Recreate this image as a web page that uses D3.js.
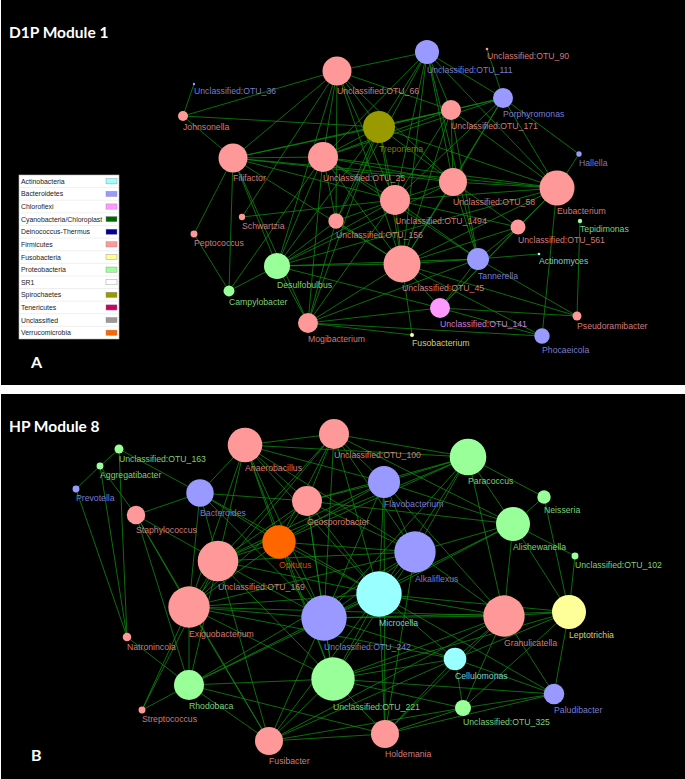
<!DOCTYPE html>
<html><head><meta charset="utf-8">
<script src="https://cdn.jsdelivr.net/npm/d3@7"></script>
<style>html,body{margin:0;padding:0;background:#fff;}svg{display:block;}</style>
</head><body>
<script>
// ---------- DATA ----------
const phyla = ["Actinobacteria","Bacteroidetes","Chloroflexi","Cyanobacteria/Chloroplast","Deinococcus-Thermus","Firmicutes","Fusobacteria","Proteobacteria","SR1","Spirochaetes","Tenericutes","Unclassified","Verrucomicrobia"];
const phylaColors = ["#99ffff","#9999ff","#ff99ff","#006600","#000099","#ff9999","#ffff99","#99ff99","#ffffff","#999900","#cc0066","#999999","#ff6600"];

// nodes: [id, label, phylum, layoutX, layoutY, abundance]
const nodesA = [
 ["n66","Unclassified:OTU_66","Firmicutes",337,71,210],
 ["n111","Unclassified:OTU_111","Bacteroidetes",427,52,144],
 ["n36","Unclassified:OTU_36","Bacteroidetes",194,84,1.4],
 ["n90","Unclassified:OTU_90","Firmicutes",487,49,1.7],
 ["john","Johnsonella","Firmicutes",183,116,25],
 ["trep","Treponema","Spirochaetes",379,127,256],
 ["n171","Unclassified:OTU_171","Firmicutes",451,110,100],
 ["porph","Porphyromonas","Bacteroidetes",503,98,100],
 ["hall","Hallella","Bacteroidetes",579,154,7.3],
 ["fili","Filifactor","Firmicutes",233,158,210],
 ["n25","Unclassified:OTU_25","Firmicutes",323,157,225],
 ["n58","Unclassified:OTU_58","Firmicutes",453,182,196],
 ["eub","Eubacterium","Firmicutes",557,188,306],
 ["n1494","Unclassified:OTU_1494","Firmicutes",395,200,225],
 ["n156","Unclassified:OTU_156","Firmicutes",336,221,59],
 ["schw","Schwartzia","Firmicutes",242,217,10],
 ["pept","Peptococcus","Firmicutes",194,234,12],
 ["n561","Unclassified:OTU_561","Firmicutes",518,227,56],
 ["tepi","Tepidimonas","Proteobacteria",580,221,4.8],
 ["actino","Actinomyces","Actinobacteria",539,254,1.7],
 ["tann","Tannerella","Bacteroidetes",478,259,121],
 ["n45","Unclassified:OTU_45","Firmicutes",402,264,342],
 ["desulf","Desulfobulbus","Proteobacteria",277,266,169],
 ["campy","Campylobacter","Proteobacteria",229,291,30],
 ["mogi","Mogibacterium","Firmicutes",308,323,100],
 ["n141","Unclassified:OTU_141","Chloroflexi",440,308,100],
 ["fuso","Fusobacterium","Fusobacteria",412,335,4],
 ["pseudo","Pseudoramibacter","Firmicutes",577,316,20],
 ["phoc","Phocaeicola","Bacteroidetes",542,336,59]
];
const linksA = [
 ["n36","john"],["john","n66"],["john","trep"],["john","fili"],["n90","porph"],["porph","hall"],["eub","hall"],
 ["tepi","pseudo"],["eub","phoc"],["actino","tann"],["tann","pseudo"],["n141","pseudo"],["n45","pseudo"],
 ["mogi","phoc"],["n141","phoc"],["n45","phoc"],["fuso","n45"],["fuso","mogi"],
 ["pept","fili"],["pept","campy"],["campy","fili"],["campy","desulf"],["campy","n25"],["schw","n1494"],["schw","n66"],
 ["fili","n66"],["fili","n25"],["fili","trep"],["fili","n58"],["fili","n1494"],["fili","n45"],["fili","desulf"],["fili","mogi"],["fili","n171"],["fili","eub"],
 ["n66","n111"],["n66","trep"],["n66","n25"],["n66","n1494"],["n66","n45"],["n66","n171"],["n66","n58"],["n66","n156"],["n66","desulf"],
 ["n111","trep"],["n111","n171"],["n111","porph"],["n111","n25"],["n111","n58"],["n111","n1494"],["n111","n45"],["n111","eub"],["n111","tann"],["n111","n156"],
 ["trep","n171"],["trep","porph"],["trep","n25"],["trep","n1494"],["trep","n45"],["trep","n58"],["trep","eub"],["trep","desulf"],["trep","n156"],["trep","mogi"],
 ["n171","porph"],["n171","n25"],["n171","n45"],["n171","n58"],["n171","eub"],["n171","n1494"],["n171","tann"],
 ["porph","n25"],["porph","eub"],["porph","n58"],["porph","n1494"],["porph","n45"],
 ["n25","n58"],["n25","n1494"],["n25","n45"],["n25","eub"],["n25","n156"],["n25","desulf"],["n25","tann"],["n25","mogi"],
 ["n58","eub"],["n58","n1494"],["n58","n45"],["n58","n561"],["n58","tann"],["n58","desulf"],
 ["eub","n1494"],["eub","n45"],["eub","n561"],["eub","n141"],["eub","desulf"],
 ["n1494","n45"],["n1494","n561"],["n1494","tann"],["n1494","n156"],["n1494","desulf"],["n1494","mogi"],
 ["n156","n45"],["n156","desulf"],["n156","mogi"],
 ["n45","tann"],["n45","desulf"],["n45","mogi"],["n45","n141"],["n45","n561"],
 ["desulf","tann"],["desulf","mogi"],["desulf","n141"],["mogi","n141"],["mogi","tann"],
 ["n561","tann"],["n561","n141"],["n141","tann"]
];

const nodesB = [
 ["n163","Unclassified:OTU_163","Proteobacteria",119,55,20],
 ["aggr","Aggregatibacter","Proteobacteria",100,72,12],
 ["prev","Prevotella","Bacteroidetes",76,95,12],
 ["staph","Staphylococcus","Firmicutes",136,121,86],
 ["bact","Bacteroides","Bacteroidetes",200,99,188],
 ["anaer","Anaerobacillus","Firmicutes",245,51,299],
 ["n100","Unclassified:OTU_100","Firmicutes",334,40,225],
 ["geos","Geosporobacter","Firmicutes",307,107,225],
 ["flavo","Flavobacterium","Bacteroidetes",384,88,256],
 ["parac","Paracoccus","Proteobacteria",468,63,335],
 ["neiss","Neisseria","Proteobacteria",544,103,45],
 ["alish","Alishewanella","Proteobacteria",513,130,289],
 ["n102","Unclassified:OTU_102","Proteobacteria",575,162,12],
 ["opit","Opitutus","Verrucomicrobia",279,148,279],
 ["alkal","Alkaliflexus","Bacteroidetes",415,158,428],
 ["n169","Unclassified:OTU_169","Firmicutes",218,167,412],
 ["exig","Exiguobacterium","Firmicutes",189,213,428],
 ["micro","Microcella","Actinobacteria",379,200,515],
 ["n242","Unclassified:OTU_242","Bacteroidetes",324,224,515],
 ["gran","Granulicatella","Firmicutes",504,222,428],
 ["lepto","Leptotrichia","Fusobacteria",569,218,289],
 ["natr","Natronincola","Firmicutes",127,243,18],
 ["cellu","Cellulomonas","Actinobacteria",455,265,128],
 ["rhod","Rhodobaca","Proteobacteria",189,291,225],
 ["n221","Unclassified:OTU_221","Proteobacteria",333,285,471],
 ["palud","Paludibacter","Bacteroidetes",554,300,106],
 ["n325","Unclassified:OTU_325","Proteobacteria",463,314,64],
 ["strep","Streptococcus","Firmicutes",142,316,12],
 ["fusib","Fusibacter","Firmicutes",269,347,196],
 ["holde","Holdemania","Firmicutes",385,340,196]
];
const linksB = [
 ["n163","aggr"],["aggr","prev"],["n163","bact"],["n163","natr"],["aggr","staph"],["aggr","natr"],["prev","natr"],
 ["staph","bact"],["staph","exig"],["staph","rhod"],["staph","n169"],["staph","fusib"],
 ["bact","anaer"],["bact","n169"],["bact","exig"],["bact","opit"],["bact","geos"],["bact","micro"],["bact","n242"],
 ["natr","rhod"],["strep","exig"],["strep","rhod"],["strep","n169"],
 ["rhod","exig"],["rhod","n169"],["rhod","fusib"],["rhod","n242"],["rhod","micro"],["rhod","n221"],["rhod","holde"],["rhod","alkal"],
 ["fusib","n221"],["fusib","n242"],["fusib","n325"],["fusib","exig"],["fusib","micro"],["fusib","holde"],["fusib","cellu"],["fusib","gran"],["fusib","n169"],
 ["holde","n221"],["holde","n325"],["holde","palud"],["holde","cellu"],["holde","gran"],["holde","micro"],["holde","alkal"],["holde","flavo"],
 ["n325","palud"],["n325","cellu"],["n325","gran"],["n325","n221"],["n325","lepto"],
 ["palud","lepto"],["palud","cellu"],["palud","n221"],["palud","gran"],["palud","micro"],
 ["cellu","gran"],["cellu","lepto"],["cellu","n221"],["cellu","micro"],["cellu","n242"],["cellu","exig"],
 ["lepto","gran"],["lepto","alish"],["lepto","n102"],["lepto","neiss"],["lepto","micro"],["lepto","n242"],["lepto","n221"],
 ["gran","alish"],["gran","parac"],["gran","micro"],["gran","n242"],["gran","alkal"],["gran","n221"],["gran","flavo"],["gran","exig"],
 ["alish","neiss"],["alish","parac"],["alish","n102"],["alish","flavo"],["alish","alkal"],["alish","micro"],["alish","n242"],["alish","geos"],["alish","n100"],
 ["neiss","parac"],
 ["parac","n100"],["parac","flavo"],["parac","anaer"],["parac","geos"],["parac","alkal"],["parac","micro"],["parac","n242"],["parac","opit"],["parac","n169"],
 ["flavo","n100"],["flavo","anaer"],["flavo","geos"],["flavo","alkal"],["flavo","micro"],["flavo","n242"],["flavo","opit"],["flavo","n169"],
 ["n100","anaer"],["n100","geos"],["n100","opit"],["n100","alkal"],["n100","micro"],["n100","n242"],["n100","n169"],["n100","exig"],
 ["anaer","geos"],["anaer","opit"],["anaer","n169"],["anaer","exig"],["anaer","n242"],["anaer","micro"],["anaer","alkal"],["anaer","n221"],
 ["geos","opit"],["geos","n169"],["geos","alkal"],["geos","micro"],["geos","n242"],["geos","exig"],["geos","n221"],
 ["opit","n169"],["opit","exig"],["opit","alkal"],["opit","micro"],["opit","n242"],["opit","n221"],
 ["alkal","micro"],["alkal","n242"],["alkal","n169"],["alkal","n221"],["alkal","exig"],
 ["n169","exig"],["n169","micro"],["n169","n242"],["n169","n221"],
 ["exig","n242"],["exig","micro"],["exig","n221"],["micro","n242"],["micro","n221"],["n242","n221"]
];

const panelTitles = ["D1P Module 1","HP Module 8"];
const panelLetters = ["A","B"];

// ---------- DRAW ----------
const W = 685, H = 779;
const svg = d3.select("body").append("svg").attr("width", W).attr("height", H);
svg.append("rect").attr("width", W).attr("height", H).attr("fill", "#fff");

const color = d3.scaleOrdinal().domain(phyla).range(phylaColors);
const rScale = d3.scaleSqrt().domain([0, 100]).range([0, 10]);
const x = d3.scaleLinear().domain([0, 685]).range([0, W]);

const panels = [
  {nodes: nodesA, links: linksA, top: 0, bottom: 385},
  {nodes: nodesB, links: linksB, top: 394, bottom: 779}
];

panels.forEach((p, i) => {
  const y = d3.scaleLinear().domain([0, 385]).range([p.top, p.top + 385]);
  const g = svg.append("g");
  g.append("rect").attr("x", 1).attr("y", p.top).attr("width", W - 1).attr("height", p.bottom - p.top).attr("fill", "#000");

  const nodes = p.nodes.map(d => ({id: d[0], label: d[1], phylum: d[2], x: x(d[3]), y: y(d[4]), r: rScale(d[5])}));
  const byId = new Map(nodes.map(n => [n.id, n]));

  g.append("g").selectAll("line").data(p.links).join("line")
    .attr("x1", d => byId.get(d[0]).x).attr("y1", d => byId.get(d[0]).y)
    .attr("x2", d => byId.get(d[1]).x).attr("y2", d => byId.get(d[1]).y)
    .attr("stroke", "#0f870f").attr("stroke-width", 0.9).attr("stroke-opacity", 0.9);

  g.append("g").selectAll("circle").data(nodes).join("circle")
    .attr("cx", d => d.x).attr("cy", d => d.y).attr("r", d => d.r)
    .attr("fill", d => color(d.phylum));

  g.append("g").selectAll("text").data(nodes).join("text")
    .attr("x", d => d.x).attr("y", d => d.y + d.r + 9)
    .attr("fill", d => color(d.phylum)).attr("fill-opacity", 0.82)
    .attr("font-family", "'Liberation Sans', Arial, sans-serif").attr("font-size", 8.7)
    .text(d => d.label);

  g.append("text").attr("x", 9).attr("y", p.top + 38)
    .attr("fill", "#fff").attr("font-family", "Lato, 'Open Sans', sans-serif")
    .attr("font-weight", "bold").attr("font-size", 15.5).text(panelTitles[i]);
  g.append("text").attr("x", 31).attr("y", i === 0 ? 368 : 761)
    .attr("fill", "#fff").attr("font-family", "Lato, 'Open Sans', sans-serif")
    .attr("font-weight", "bold").attr("font-size", 16).text(panelLetters[i]);
});

// legend (panel A)
const lg = svg.append("g");
const ly = d3.scaleBand().domain(phyla).range([175, 339]);
lg.append("rect").attr("x", 19).attr("y", 175).attr("width", 100).attr("height", 164).attr("fill", "#fff").attr("stroke", "#bbb").attr("stroke-width", 0.6);
lg.selectAll("line.sep").data(phyla.slice(1)).join("line").attr("class", "sep")
  .attr("x1", 19).attr("x2", 119).attr("y1", d => ly(d)).attr("y2", d => ly(d))
  .attr("stroke", "#e4e4e4").attr("stroke-width", 0.6);
lg.selectAll("text").data(phyla).join("text")
  .attr("x", 21).attr("y", d => ly(d) + ly.bandwidth() / 2 + 2.5)
  .attr("font-family", "'Liberation Sans', Arial, sans-serif").attr("font-size", 6.9).attr("fill", "#222")
  .text(d => d);
lg.selectAll("rect.sw").data(phyla).join("rect").attr("class", "sw")
  .attr("x", 106).attr("y", d => ly(d) + ly.bandwidth() / 2 - 2.6).attr("width", 11).attr("height", 5.2)
  .attr("fill", d => color(d)).attr("stroke", "#888").attr("stroke-width", 0.4);
</script>
</body></html>
